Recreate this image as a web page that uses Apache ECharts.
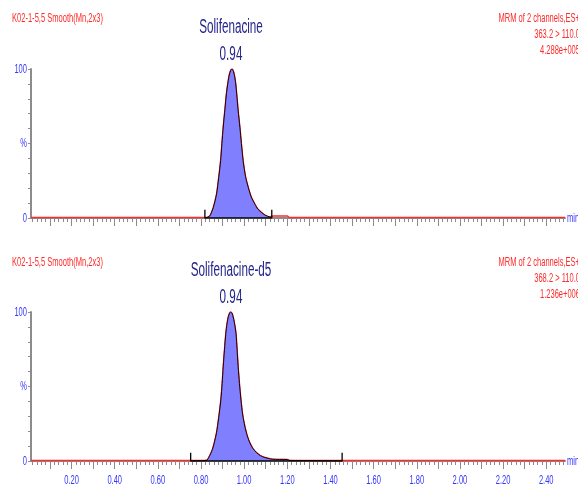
<!DOCTYPE html>
<html>
<head>
<meta charset="utf-8">
<script src="https://cdn.jsdelivr.net/npm/echarts@6/dist/echarts.min.js"></script>
<style>
  html, body { margin: 0; padding: 0; background: #fff; }
  #chart { width: 578px; height: 489px; }
</style>
</head>
<body>
<div id="chart"></div>
<script>
// chromatogram values (time in min, intensity in %)
var topTime = [0.012, 0.818, 0.832, 0.841, 0.848, 0.857, 0.872, 0.882, 0.891, 0.897, 0.903, 0.911, 0.918, 0.925, 0.931, 0.938, 0.944, 0.950, 0.955, 0.960, 0.965, 0.972, 0.980, 0.987, 0.995, 1.006, 1.019, 1.033, 1.050, 1.063, 1.081, 1.098, 1.119, 1.128, 1.135, 1.200, 1.210, 2.487];
var topInt  = [0.4,   0.4,   0.6,   1.4,   3.5,   7.0,   16.0,  27.0,  38.5,  50.0,  61.0,  73.0,  83.6,  91.0,  96.0,  99.2,  100,   98.5,  95.5,  91.0,  83.6,  72.0,  61.0,  50.0,  38.5,  28.0,  20.5,  14.0,  9.2,   6.0,   3.6,   1.8,   0.7,   1.2,   1.3,   1.3,   0.4,   0.4];
var topPeak = [0.818, 1.128];

var botTime = [0.012, 0.752, 0.826, 0.838, 0.845, 0.853, 0.862, 0.872, 0.882, 0.892, 0.898, 0.903, 0.909, 0.915, 0.921, 0.927, 0.933, 0.938, 0.944, 0.950, 0.956, 0.962, 0.967, 0.972, 0.978, 0.985, 0.993, 1.003, 1.014, 1.026, 1.040, 1.057, 1.075, 1.096, 1.130, 1.200, 1.210, 1.454, 2.487];
var botInt  = [0.3,   0.3,   0.5,   2.9,   5.0,   7.8,   12.5,  19.0,  29.0,  41.0,  52.0,  63.3,  75.0,  85.6,  92.5,  97.0,  99.5,  100,   99.0,  96.0,  91.5,  85.6,  75.0,  63.3,  52.0,  41.0,  31.0,  23.3,  17.0,  12.3,  8.5,   5.6,   3.6,   2.3,   1.2,   1.0,   0.4,   0.3,   0.3];
var botPeak = [0.752, 1.454];

var timeRange = [0.012, 2.487];
var labelTicks = [0.2, 0.4, 0.6, 0.8, 1.0, 1.2, 1.4, 1.6, 1.8, 2.0, 2.2, 2.4];
var yLabels = [[0, '0'], [50, '%'], [100, '100']];
var majorTicks = [0.1, 0.2, 0.3, 0.4, 0.5, 0.6, 0.7, 0.8, 0.9, 1.0, 1.1, 1.2, 1.3, 1.4, 1.5, 1.6, 1.7, 1.8, 1.9, 2.0, 2.1, 2.2, 2.3, 2.4];
var minorTicks = [];
for (var i = 1; i <= 124; i++) minorTicks.push(+(i * 0.02).toFixed(2));

var FONT = "'Liberation Sans', Arial, sans-serif";
var RED = '#ff2a2a', BLUE = '#3535ff', NAVY = '#24248c', GREY = '#8c8c8c';

function zip(t, v) {
  var out = [];
  for (var i = 0; i < t.length; i++) out.push([t[i], v[i]]);
  return out;
}
function peakData(t, v, range) {
  var out = [[range[0], 0]];
  for (var i = 0; i < t.length; i++) {
    if (t[i] > range[0] && t[i] < range[1]) out.push([t[i], v[i]]);
  }
  out.push([range[1], 0]);
  return out;
}
function baseData(range) {
  return [[range[0], 5.5], [range[0], 0], [range[1], 0], [range[1], 5.5]];
}

function xMajor(grid) {
  return {
    type: 'value', gridIndex: grid, position: 'bottom', min: timeRange[0], max: timeRange[1],
    axisLine: { lineStyle: { color: GREY, width: 2 } },
    axisTick: { customValues: majorTicks, length: 8, lineStyle: { color: GREY } },
    axisLabel: { show: false },
    splitLine: { show: false }
  };
}
function xMinor(grid) {
  return {
    type: 'value', gridIndex: grid, position: 'bottom', min: timeRange[0], max: timeRange[1],
    axisLine: { show: false },
    axisTick: { customValues: minorTicks, length: 4, lineStyle: { color: GREY } },
    axisLabel: { show: false },
    splitLine: { show: false }
  };
}
function yAxis(grid) {
  return {
    type: 'value', gridIndex: grid, min: 0, max: 100, interval: 10,
    axisLine: { show: true, lineStyle: { color: GREY, width: 2 } },
    axisTick: { show: true, length: 3, lineStyle: { color: GREY } },
    axisLabel: { show: false },
    splitLine: { show: false }
  };
}
function traceSeries(xi, yi, t, v) {
  return { type: 'line', xAxisIndex: xi, yAxisIndex: yi, data: zip(t, v), symbol: 'none',
    smooth: 0.25, lineStyle: { color: RED, width: 1.5 }, z: 2 };
}
function peakSeries(xi, yi, t, v, range) {
  return { type: 'line', xAxisIndex: xi, yAxisIndex: yi, data: peakData(t, v, range), symbol: 'none',
    smooth: 0.25, lineStyle: { color: '#1a0000', width: 1 },
    areaStyle: { color: '#8080ff', opacity: 1, origin: 0 }, z: 3 };
}
function baseSeries(xi, yi, range) {
  return { type: 'line', xAxisIndex: xi, yAxisIndex: yi, data: baseData(range), symbol: 'none',
    lineStyle: { color: '#000', width: 1.3 }, z: 4 };
}
// narrow, tall lettering like the original print: squeeze text horizontally
function txt(x, y, s, color, size, align, squeeze) {
  return { type: 'text', x: x, y: y, scaleX: squeeze || 0.58, z: 10,
    style: { text: s, fill: color, fontSize: size, fontFamily: FONT, align: align || 'left', verticalAlign: 'middle' } };
}

var chart = echarts.init(document.getElementById('chart'));
chart.setOption({
  animation: false,
  backgroundColor: '#fff',
  grid: [
    { left: 31, top: 69, width: 534, height: 149, outerBoundsMode: 'none', containLabel: false },
    { left: 31, top: 312, width: 534, height: 149, outerBoundsMode: 'none', containLabel: false }
  ],
  xAxis: [xMajor(0), xMinor(0), xMajor(1), xMinor(1)],
  yAxis: [yAxis(0), yAxis(1)],
  series: [
    traceSeries(0, 0, topTime, topInt),
    peakSeries(0, 0, topTime, topInt, topPeak),
    baseSeries(0, 0, topPeak),
    traceSeries(2, 1, botTime, botInt),
    peakSeries(2, 1, botTime, botInt, botPeak),
    baseSeries(2, 1, botPeak)
  ]
});

var texts = [
  txt(12, 18, 'K02-1-5,5 Smooth(Mn,2x3)', RED, 13),
  txt(580, 18, 'MRM of 2 channels,ES+', RED, 13, 'right'),
  txt(580, 34, '363.2 > 110.0', RED, 13, 'right'),
  txt(580, 50, '4.288e+005', RED, 13, 'right'),
  txt(231, 28, 'Solifenacine', NAVY, 19.5, 'center', 0.6),
  txt(231, 55, '0.94', NAVY, 19.5, 'center', 0.6),
  txt(12, 262, 'K02-1-5,5 Smooth(Mn,2x3)', RED, 13),
  txt(580, 262, 'MRM of 2 channels,ES+', RED, 13, 'right'),
  txt(580, 278, '368.2 > 110.0', RED, 13, 'right'),
  txt(580, 294, '1.236e+006', RED, 13, 'right'),
  txt(231, 271, 'Solifenacine-d5', NAVY, 19.5, 'center', 0.6),
  txt(231, 298, '0.94', NAVY, 19.5, 'center', 0.6)
];
// axis tick labels, placed through the axes' own scales
[0, 1].forEach(function (g) {
  yLabels.forEach(function (l) {
    texts.push(txt(27, chart.convertToPixel({ yAxisIndex: g }, l[0]), l[1], BLUE, 13, 'right'));
  });
  var y0 = chart.convertToPixel({ yAxisIndex: g }, 0);
  texts.push(txt(567, y0, 'min', BLUE, 13, 'left'));
});
labelTicks.forEach(function (v) {
  texts.push(txt(chart.convertToPixel({ xAxisIndex: 2 }, v), 480, v.toFixed(2), BLUE, 13, 'center'));
});
chart.setOption({ graphic: texts });
</script>
</body>
</html>
